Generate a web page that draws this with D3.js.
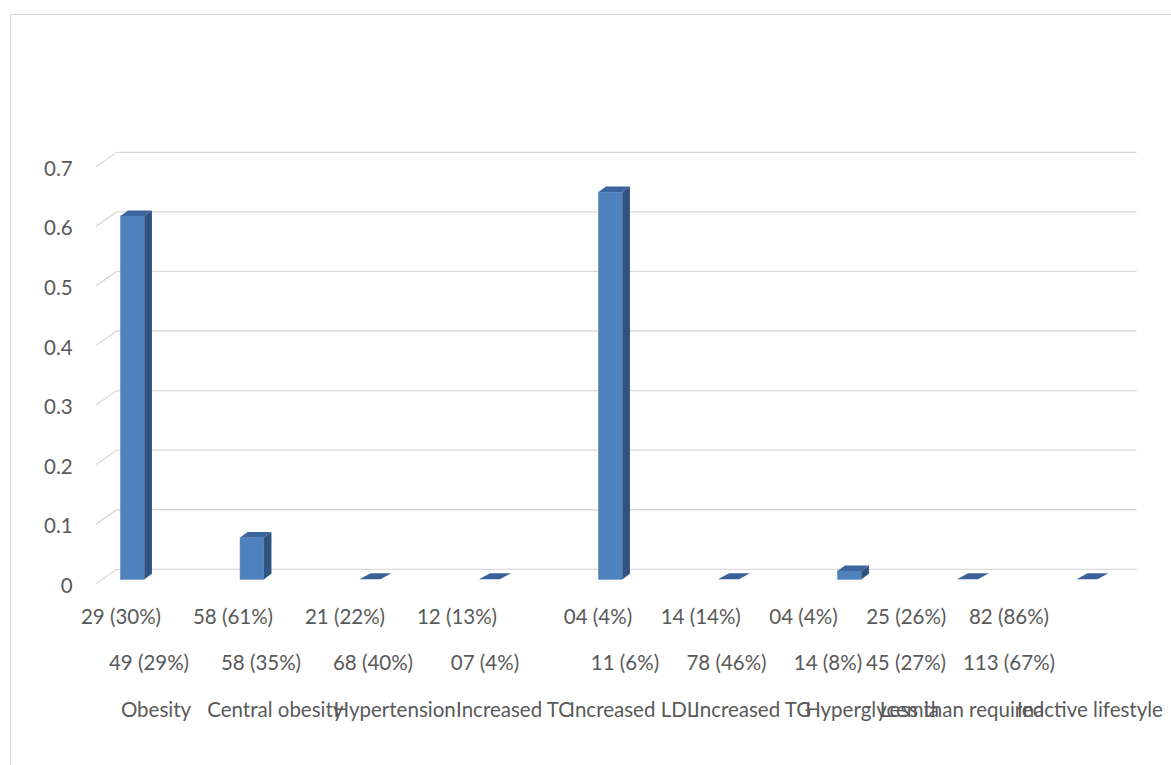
<!DOCTYPE html>
<html>
<head>
<meta charset="utf-8">
<script src="https://cdn.jsdelivr.net/npm/d3@7"></script>
<style>
  html, body { margin: 0; padding: 0; background: #ffffff; }
  svg { display: block; }
  text { font-family: Lato, "Open Sans", sans-serif; fill: #595959; }
</style>
</head>
<body>
<svg id="chart" width="1171" height="765"></svg>
<script>
// Categories and the two rows of counts shown beneath each column
const categories = ["Obesity", "Central obesity", "Hypertension", "Increased TC", "Increased LDL",
                    "Increased TG", "Hyperglycemia", "Less than required", "Inactive lifestyle"];
const countsRowOne = ["29 (30%)", "58 (61%)", "21 (22%)", "12 (13%)", "04 (4%)",
                      "14 (14%)", "04 (4%)", "25 (26%)", "82 (86%)"];
const countsRowTwo = ["49 (29%)", "58 (35%)", "68 (40%)", "07 (4%)", "11 (6%)",
                      "78 (46%)", "14 (8%)", "45 (27%)", "113 (67%)"];
const values = [0.61, 0.07, 0, 0, 0.65, 0, 0.014, 0, 0];
const yTicks = [0, 0.1, 0.2, 0.3, 0.4, 0.5, 0.6, 0.7];

const svg = d3.select("#chart");

// chart area frame
svg.append("rect")
  .attr("x", 10.5).attr("y", 14.5)
  .attr("width", 1300).attr("height", 900)
  .attr("fill", "none").attr("stroke", "#d9d9d9").attr("stroke-width", 1);

// value scale on the back wall
const y = d3.scaleLinear().domain([0, 0.7]).range([569.3, 152.3]);
const wallLeft = 116.7, wallRight = 1136.7;
const floorDx = -20.7, floorDy = 14.4;      // projection of the floor depth

// columns sit midway in depth
const barShiftY = 10;
const depthDx = 7.5, depthDy = -5.5;
const x = d3.scalePoint().domain(categories).range([132.5, 1088.5]);
const barW = x.step() * 0.2;

// gridlines: back wall line plus its diagonal on the left side wall
const grid = svg.append("g");
yTicks.forEach(t => {
  const yy = y(t);
  grid.append("path")
    .attr("d", `M${wallLeft + floorDx},${yy + floorDy}L${wallLeft},${yy}L${wallRight},${yy}`)
    .attr("fill", "none").attr("stroke", "#d9d9d9").attr("stroke-width", 1.3);
});

// y axis labels
svg.append("g").selectAll("text").data(yTicks).join("text")
  .attr("x", 72.7)
  .attr("y", d => y(d) + floorDy + 2)
  .attr("dy", "0.35em")
  .attr("text-anchor", "end")
  .attr("font-size", 20.5)
  .text(d => d3.format("")(d));

// 3D columns
const bars = svg.append("g");
categories.forEach((c, i) => {
  const v = values[i];
  const x0 = x(c) - barW / 2, x1 = x(c) + barW / 2;
  const yBot = y(0) + barShiftY;
  const yTop = y(v) + barShiftY;
  const g = bars.append("g");
  if (v > 0) {
    g.append("rect")
      .attr("x", x0).attr("y", yTop)
      .attr("width", barW).attr("height", yBot - yTop)
      .attr("fill", "#4f81bd").attr("stroke", "#5b8cc6").attr("stroke-width", 0.6);
    g.append("path")
      .attr("d", `M${x1},${yTop}L${x1 + depthDx},${yTop + depthDy}L${x1 + depthDx},${yBot + depthDy}L${x1},${yBot}Z`)
      .attr("fill", "#30527f");
    g.append("path")
      .attr("d", `M${x0},${yTop}L${x0 + depthDx},${yTop + depthDy}L${x1 + depthDx},${yTop + depthDy}L${x1},${yTop}Z`)
      .attr("fill", "#3b659c");
  } else {
    // a zero column collapses to its flat top face
    const skew = 11;
    g.append("path")
      .attr("d", `M${x0},${yTop}L${x0 + skew},${yTop - 6}L${x1 + skew - 3},${yTop - 6}L${x1 - 3},${yTop}Z`)
      .attr("fill", "#3a6299");
  }
});

// category labels: three stacked rows
const rowOneX = d3.scaleLinear().domain([0, 3, 4, 8]).range([121, 457, 598, 1009]);
const rowTwoX = d3.scaleLinear().domain([0, 3, 4, 6, 7, 8]).range([149, 485, 625, 828, 906, 1009]);
const rowThreeX = d3.scaleLinear().domain([0, 6, 7, 8]).range([156, 872, 962, 1090]);

const labels = svg.append("g").attr("font-size", 20.5).attr("text-anchor", "middle");
labels.selectAll("text.r1").data(countsRowOne).join("text").attr("class", "r1")
  .attr("x", (d, i) => rowOneX(i)).attr("y", 623.5).text(d => d);
labels.selectAll("text.r2").data(countsRowTwo).join("text").attr("class", "r2")
  .attr("x", (d, i) => rowTwoX(i)).attr("y", 670).text(d => d);
labels.selectAll("text.r3").data(categories).join("text").attr("class", "r3")
  .attr("x", (d, i) => rowThreeX(i)).attr("y", 716.5).text(d => d);
</script>
</body>
</html>
